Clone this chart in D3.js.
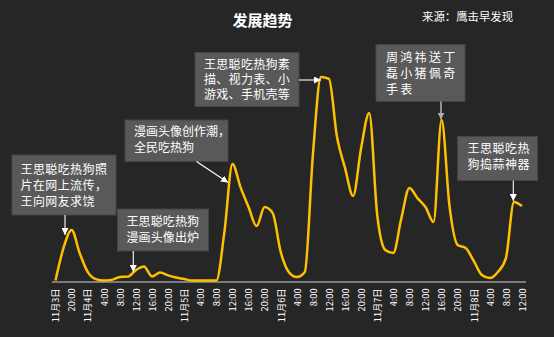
<!DOCTYPE html>
<html>
<head>
<meta charset="utf-8">
<script src="https://cdn.jsdelivr.net/npm/d3@7"></script>
<style>
  html, body { margin: 0; padding: 0; background: #262626; }
  svg { display: block; }
  text { font-family: "Noto Sans CJK SC", "Noto Sans", sans-serif; }
</style>
</head>
<body>
<svg id="chart" width="554" height="337"></svg>
<script>
// Axis labels, one every 4 hours (Nov 3 16:00 – Nov 8 12:00)
const tickLabels = [
  "11月3日", "20:00",
  "11月4日", "4:00", "8:00", "12:00", "16:00", "20:00",
  "11月5日", "4:00", "8:00", "12:00", "16:00", "20:00",
  "11月6日", "4:00", "8:00", "12:00", "16:00", "20:00",
  "11月7日", "4:00", "8:00", "12:00", "16:00", "20:00",
  "11月8日", "4:00", "8:00", "12:00"
];

// Discussion heat, sampled every 2 hours
const heat = [
  0, 16, 24.8, 13.5, 4.2, 0.7, 0, 0.3, 1.7, 1.9,
  5.1, 6.9, 2, 3.9, 2.5, 1.5, 0.7, 0, 0, 0,
  0, 23.8, 57.1, 45.8, 36, 26.7, 36, 33, 14, 4.2,
  1.7, 4.2, 61.5, 99.8, 98.8, 70.3, 55.1, 41.4, 65, 82.1,
  32.1, 15, 13.5, 30.6, 45.3, 40.4, 36, 28.7, 78.7, 36,
  17.4, 15.9, 9.6, 2.7, 1.2, 4.2, 11, 38.5, 36.5
];

// Event notes
const noteLines = [
  ["王思聪吃热狗照", "片在网上流传，", "王向网友求饶"],
  ["王思聪吃热狗", "漫画头像出炉"],
  ["漫画头像创作潮，", "全民吃热狗"],
  ["王思聪吃热狗素", "描、视力表、小", "游戏、手机壳等"],
  ["周鸿祎送丁", "磊小猪佩奇", "手表"],
  ["王思聪吃热", "狗捣蒜神器"]
];

const titleText = "发展趋势";
const sourceText = "来源：鹰击早发现";

const svg = d3.select("#chart");
const W = 554, H = 337;

svg.append("rect").attr("width", W).attr("height", H).attr("fill", "#262626");

const idx = d3.range(heat.length);
const x = d3.scalePoint().domain(idx).range([55.5, 522]);
const y = d3.scaleLinear().domain([0, 100]).range([280.5, 76.5]);

// Title and source
svg.append("text")
  .attr("x", 262.5).attr("y", 25.5)
  .attr("text-anchor", "middle")
  .attr("fill", "#ffffff")
  .attr("font-size", 15).attr("font-weight", "bold")
  .text(titleText);

svg.append("text")
  .attr("x", 422).attr("y", 21)
  .attr("fill", "#ffffff")
  .attr("font-size", 11.4)
  .text(sourceText);

// Category axis
const tickIdx = tickLabels.map((_, i) => i * 2);
const xAxis = d3.axisBottom(x)
  .tickValues(tickIdx)
  .tickSize(0)
  .tickFormat(d => tickLabels[d / 2]);

const axisG = svg.append("g")
  .attr("transform", "translate(0,282)")
  .call(xAxis);

axisG.select(".domain")
  .attr("d", "M52,0H526")
  .attr("stroke", "#d0d0d0")
  .attr("stroke-width", 1.2);

axisG.selectAll(".tick text")
  .attr("transform", "rotate(-90)")
  .attr("text-anchor", "end")
  .attr("x", -6.5)
  .attr("y", 0)
  .attr("dy", "0.36em")
  .attr("fill", "#ffffff")
  .attr("font-size", 9.2)
  .attr("font-family", "\"Noto Sans CJK SC\", sans-serif");

// Trend line
const line = d3.line()
  .x((d, i) => x(i))
  .y(d => y(d))
  .curve(d3.curveMonotoneX);

svg.append("path")
  .datum(heat)
  .attr("d", line)
  .attr("fill", "none")
  .attr("stroke", "#FFC000")
  .attr("stroke-width", 2.5)
  .attr("stroke-linejoin", "round");

// Arrowheads
const defs = svg.append("defs");
[["arrW", "#ffffff"], ["arrG", "#b0b0b0"]].forEach(([id, c]) => {
  defs.append("marker")
    .attr("id", id)
    .attr("viewBox", "0 0 10 10")
    .attr("refX", 10).attr("refY", 5)
    .attr("markerWidth", 7).attr("markerHeight", 7)
    .attr("markerUnits", "userSpaceOnUse")
    .attr("orient", "auto")
    .append("path")
    .attr("d", "M0,0L10,5L0,10Z")
    .attr("fill", c);
});

// Note boxes: box rect, text origin, letter spacing, line pitch, arrow
const noteLayout = [
  { box: [12, 155, 104, 60], tx: 20.5, ty: 173.5, ls: 0.4, lh: 16,
    arrow: [65, 215, 65, 235], color: "#ffffff", m: "arrW" },
  { box: [117.5, 209, 91, 42], tx: 126.5, ty: 226, ls: 0.1, lh: 15.5,
    arrow: [133.3, 251, 133.3, 272], color: "#ffffff", m: "arrW" },
  { box: [125, 120, 103, 41.5], tx: 134, ty: 136, ls: 0, lh: 16,
    arrow: [196.5, 161.5, 228, 182.5], color: "#ffffff", m: "arrW" },
  { box: [195, 52.5, 104, 54], tx: 204, ty: 69, ls: 0.3, lh: 15,
    arrow: [299, 80, 321, 80], color: "#ffffff", m: "arrW" },
  { box: [376, 44.5, 89, 57], tx: 386, ty: 61.5, ls: 2.3, lh: 16,
    arrow: [441, 101.5, 441, 119.5], color: "#b0b0b0", m: "arrG" },
  { box: [457.5, 136.5, 80, 44], tx: 467.5, ty: 153, ls: 0.5, lh: 16,
    arrow: [513.3, 180.5, 513.3, 201], color: "#ffffff", m: "arrW" }
];

const notes = svg.append("g");
noteLines.forEach((lines, i) => {
  const L = noteLayout[i];
  const g = notes.append("g");
  g.append("rect")
    .attr("x", L.box[0]).attr("y", L.box[1])
    .attr("width", L.box[2]).attr("height", L.box[3])
    .attr("fill", "#595959")
    .attr("stroke", "#454545")
    .attr("stroke-width", 1);
  g.selectAll("text.note")
    .data(lines)
    .join("text")
    .attr("class", "note")
    .attr("x", L.tx)
    .attr("y", (d, j) => L.ty + j * L.lh)
    .attr("fill", "#ffffff")
    .attr("font-size", 12)
    .attr("letter-spacing", L.ls)
    .text(d => d);
  g.append("line")
    .attr("x1", L.arrow[0]).attr("y1", L.arrow[1])
    .attr("x2", L.arrow[2]).attr("y2", L.arrow[3])
    .attr("stroke", L.color)
    .attr("stroke-width", i === 4 ? 1.6 : 1.1)
    .attr("marker-end", `url(#${L.m})`);
});
</script>
</body>
</html>
